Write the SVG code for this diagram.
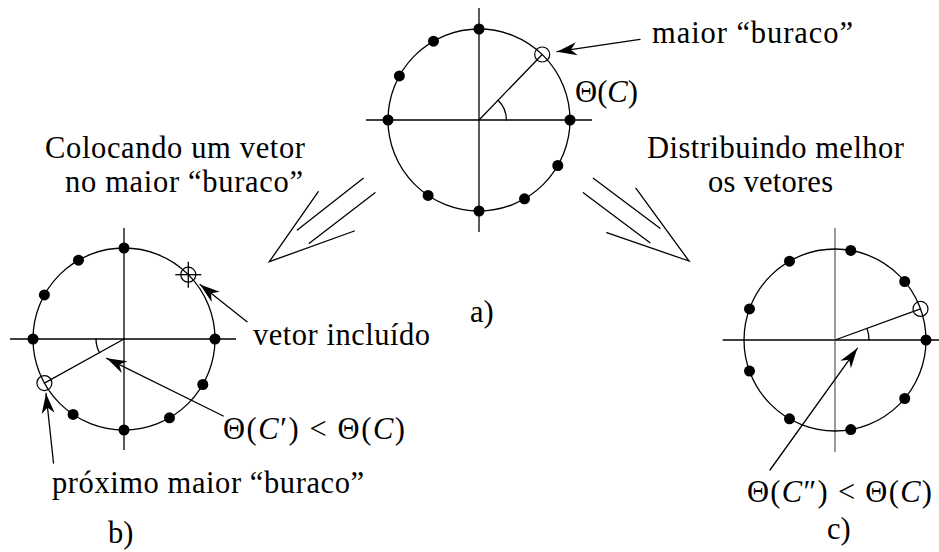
<svg xmlns="http://www.w3.org/2000/svg" width="939" height="552" viewBox="0 0 939 552">
<defs>
<style>
.ln{stroke:#000;stroke-width:1.3;fill:none;stroke-linecap:round}
.ax{stroke:#000;stroke-width:1.3}
.axg{stroke:#7a7a7a;stroke-width:1.5}
.circ{fill:none;stroke:#000;stroke-width:1.3}
.hole{fill:none;stroke:#000;stroke-width:1.2}
.dot{fill:#000}
.t{font-family:"Liberation Serif","Times New Roman",serif;font-size:30.5px;fill:#000}
.i{font-style:italic}
</style>
<marker id="ah" viewBox="-21 -7 22 14" markerWidth="22" markerHeight="14" refX="0" refY="0" orient="auto" markerUnits="userSpaceOnUse">
<path d="M0,0 L-20,-6.5 L-14,0 L-20,6.5 Z" fill="#000"/>
</marker>
</defs>
<rect width="939" height="552" fill="#fff"/>

<g id="panel-a">
<line class="ax" x1="366" y1="120" x2="592" y2="120"/>
<line class="ax" x1="479" y1="8" x2="479" y2="232"/>
<circle class="circ" cx="479" cy="120" r="91"/>
<line class="ln" x1="479" y1="120" x2="542.2" y2="54.5"/>
<path class="ln" d="M506.4,120 A27.4,27.4 0 0 0 498,100.3"/>
<circle class="dot" cx="570" cy="120" r="5.5"/>
<circle class="dot" cx="479" cy="29" r="5.5"/>
<circle class="dot" cx="433.5" cy="41.2" r="5.5"/>
<circle class="dot" cx="399.4" cy="75.9" r="5.5"/>
<circle class="dot" cx="388" cy="120" r="5.5"/>
<circle class="dot" cx="428.1" cy="195.4" r="5.5"/>
<circle class="dot" cx="479" cy="211" r="5.5"/>
<circle class="dot" cx="524.5" cy="198.8" r="5.5"/>
<circle class="dot" cx="557.8" cy="165.5" r="5.5"/>
<circle class="hole" cx="542.2" cy="54.5" r="7.5"/>
</g>

<g id="panel-b">
<line class="ax" x1="10" y1="339" x2="236" y2="339"/>
<line class="ax" x1="124" y1="228" x2="124" y2="450"/>
<circle class="circ" cx="124" cy="339" r="91"/>
<line class="ln" x1="124" y1="339" x2="44.4" y2="383.1"/>
<path class="ln" d="M96,339 A28,28 0 0 0 99.5,352.6"/>
<circle class="dot" cx="215" cy="339" r="5.5"/>
<circle class="dot" cx="124" cy="248" r="5.5"/>
<circle class="dot" cx="78.5" cy="260.2" r="5.5"/>
<circle class="dot" cx="44.4" cy="294.9" r="5.5"/>
<circle class="dot" cx="33" cy="339" r="5.5"/>
<circle class="dot" cx="73.1" cy="414.4" r="5.5"/>
<circle class="dot" cx="124" cy="430" r="5.5"/>
<circle class="dot" cx="169.5" cy="417.8" r="5.5"/>
<circle class="dot" cx="202.8" cy="384.5" r="5.5"/>
<circle class="hole" cx="44.4" cy="383.1" r="7.5"/>
<circle class="hole" cx="188.3" cy="274.7" r="7.5"/>
<line class="ax" x1="175.3" y1="274.7" x2="201.3" y2="274.7"/>
<line class="ax" x1="188.3" y1="261.7" x2="188.3" y2="287.7"/>
</g>

<g id="panel-c">
<line class="ax" x1="722.7" y1="340" x2="939" y2="340"/>
<line class="axg" x1="835" y1="228" x2="835" y2="452"/>
<circle class="circ" cx="835" cy="340" r="91"/>
<line class="ln" x1="835" y1="340" x2="920.5" y2="308.9"/>
<path class="ln" d="M869,340 A34,34 0 0 0 867,328.4"/>
<circle class="dot" cx="926" cy="340" r="5.5"/>
<circle class="dot" cx="904.7" cy="281.5" r="5.5"/>
<circle class="dot" cx="850.8" cy="250.4" r="5.5"/>
<circle class="dot" cx="789.5" cy="261.2" r="5.5"/>
<circle class="dot" cx="749.5" cy="308.9" r="5.5"/>
<circle class="dot" cx="749.5" cy="371.1" r="5.5"/>
<circle class="dot" cx="789.5" cy="418.8" r="5.5"/>
<circle class="dot" cx="850.8" cy="429.6" r="5.5"/>
<circle class="dot" cx="904.7" cy="398.5" r="5.5"/>
<circle class="hole" cx="920.5" cy="308.9" r="7.5"/>
</g>

<g id="connectors">
<line class="ln" x1="640" y1="39.3" x2="557" y2="51.7" marker-end="url(#ah)"/>
<line class="ln" x1="247" y1="321.7" x2="200" y2="284.5" marker-end="url(#ah)"/>
<line class="ln" x1="223.3" y1="416" x2="106.7" y2="358.3" marker-end="url(#ah)"/>
<line class="ln" x1="53.5" y1="463" x2="46" y2="393.5" marker-end="url(#ah)"/>
<line class="ln" x1="770" y1="470" x2="857.3" y2="348.3" marker-end="url(#ah)"/>
<g id="big-arrow-left">
<polyline class="ln" points="318.3,191.7 269.3,261.7 354.3,231"/>
<line class="ln" x1="297.3" y1="230" x2="363.3" y2="178.3"/>
<line class="ln" x1="309.3" y1="243.3" x2="375" y2="192.7"/>
</g>
<g id="big-arrow-right">
<polyline class="ln" points="606.7,232.7 689,261 636,188.3"/>
<line class="ln" x1="593.3" y1="178.3" x2="660" y2="228.3"/>
<line class="ln" x1="583.3" y1="192.7" x2="650" y2="242.7"/>
</g>
</g>

<g id="labels">
<text class="t" x="652" y="43" textLength="201" lengthAdjust="spacing">maior “buraco”</text>
<text class="t" x="575" y="102" textLength="63" lengthAdjust="spacingAndGlyphs">Θ(<tspan class="i">C</tspan>)</text>
<text class="t" x="45" y="158" textLength="260" lengthAdjust="spacing">Colocando um vetor</text>
<text class="t" x="65" y="192" textLength="238" lengthAdjust="spacing">no maior “buraco”</text>
<text class="t" x="647" y="158" textLength="257" lengthAdjust="spacing">Distribuindo melhor</text>
<text class="t" x="708" y="192" textLength="125" lengthAdjust="spacing">os vetores</text>
<text class="t" x="470" y="322">a)</text>
<text class="t" x="253" y="345" textLength="177" lengthAdjust="spacing">vetor incluído</text>
<text class="t" x="223" y="439" textLength="182" lengthAdjust="spacing">Θ(<tspan class="i">C</tspan>′) &lt; Θ(<tspan class="i">C</tspan>)</text>
<text class="t" x="52" y="493" textLength="312" lengthAdjust="spacing">próximo maior “buraco”</text>
<text class="t" x="108" y="543">b)</text>
<text class="t" x="747" y="502" textLength="185" lengthAdjust="spacing">Θ(<tspan class="i">C</tspan>″) &lt; Θ(<tspan class="i">C</tspan>)</text>
<text class="t" x="827" y="539">c)</text>
</g>
</svg>
